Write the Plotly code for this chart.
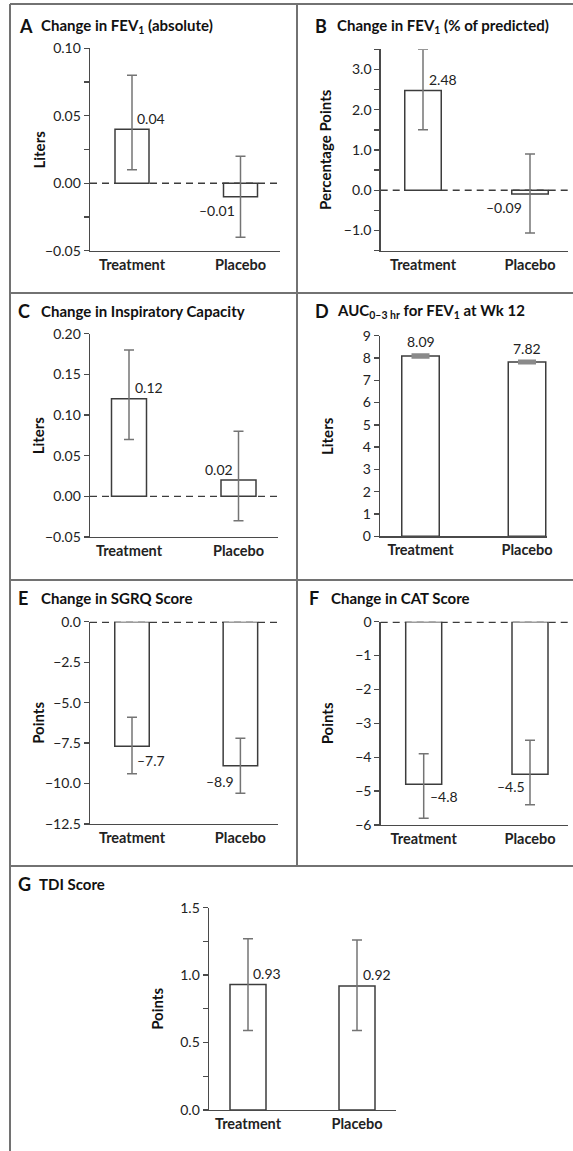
import plotly.graph_objects as go

# ---------------- DATA ----------------
categories = ["Treatment", "Placebo"]

panel_ids = ["A", "B", "C", "D", "E", "F", "G"]
panel_titles = [
    "Change in FEV<sub>1</sub> (absolute)",
    "Change in FEV<sub>1</sub> (% of predicted)",
    "Change in Inspiratory Capacity",
    "AUC<sub>0\u20133 hr</sub> for FEV<sub>1</sub> at Wk 12",
    "Change in SGRQ Score",
    "Change in CAT Score",
    "TDI Score",
]
y_titles = ["Liters", "Percentage Points", "Liters", "Liters", "Points", "Points", "Points"]

fev1_abs = [0.04, -0.01]
fev1_abs_lo = [0.01, -0.04]
fev1_abs_hi = [0.08, 0.02]

fev1_pct = [2.48, -0.09]
fev1_pct_lo = [1.50, -1.06]
fev1_pct_hi = [3.50, 0.90]

ic = [0.12, 0.02]
ic_lo = [0.07, -0.03]
ic_hi = [0.18, 0.08]

auc = [8.09, 7.82]
auc_lo = [8.03, 7.77]
auc_hi = [8.15, 7.87]

sgrq = [-7.7, -8.9]
sgrq_lo = [-9.4, -10.6]
sgrq_hi = [-5.9, -7.2]

cat = [-4.8, -4.5]
cat_lo = [-5.8, -5.4]
cat_hi = [-3.9, -3.5]

tdi = [0.93, 0.92]
tdi_lo = [0.59, 0.59]
tdi_hi = [1.27, 1.26]

values = [fev1_abs, fev1_pct, ic, auc, sgrq, cat, tdi]
lows = [fev1_abs_lo, fev1_pct_lo, ic_lo, auc_lo, sgrq_lo, cat_lo, tdi_lo]
highs = [fev1_abs_hi, fev1_pct_hi, ic_hi, auc_hi, sgrq_hi, cat_hi, tdi_hi]
label_decimals = [2, 2, 2, 2, 1, 1, 2]

y_ranges = [[-0.05, 0.10], [-1.5, 3.5], [-0.05, 0.20], [0, 9], [-12.5, 0], [-6, 0], [0, 1.5]]
y_dticks = [0.05, 1, 0.05, 1, 2.5, 1, 0.5]
y_minor = [0.025, 0.5, None, None, None, None, 0.25]
y_formats = [".2f", ".1f", ".2f", "d", ".1f", "d", ".1f"]

# ---------------- LAYOUT (pixels) ----------------
W, H = 573, 1151
FONT = "Lato"
TXT = "#222222"
AX = "#4a4a4a"

# axis left, axis right, bar centre T, bar centre P, bar width, y top px, y bottom px
geom = [
    (90, 280, 132, 240.5, 34, 48.3, 250.7),
    (380.7, 568, 423, 530, 36.5, 49.3, 250.7),
    (90, 278, 129, 238.5, 35, 333.7, 537),
    (380, 547, 420.5, 527, 37.5, 335.7, 536.3),
    (90, 278, 132, 240.4, 34.5, 621.7, 824),
    (380.7, 568, 423.7, 530, 36, 621.7, 825),
    (209, 396, 248, 357, 36, 907.7, 1110),
]
# letter left x, title text left x, title centre y
title_pos = [(17, 39, 26), (313, 335, 26), (16, 39, 311), (313, 335, 311),
             (16, 39, 598), (307, 329, 598), (16, 37, 884)]
# y-title centre x
ytitle_x = [38, 325, 38, 327, 38, 327, 157]
# value-label placement per bar: (dx, dy, anchor)
lab_pos = [
    [(3, 11, "left"), (-4, -14, "right")],
    [(4, 11, "left"), (-6, -14, "right")],
    [(4, 11, "left"), (-4, 11, "right")],
    [(0, 14, "center"), (0, 14, "center")],
    [(3, -14, "left"), (-4, -16, "right")],
    [(4, -12, "left"), (-3, -12, "right")],
    [(3, 11, "left"), (4, 11, "left")],
]

def px(x):
    return x / W

def py(y):
    return 1 - y / H

fig = go.Figure()
annotations = []
shapes = []

for i in range(7):
    axl, axr, c0, c1, bw, yt, yb = geom[i]
    unit = c1 - c0
    xr = [-(c0 - axl) / unit, 1 + (axr - c1) / unit]
    xa = "x" if i == 0 else f"x{i+1}"
    ya = "y" if i == 0 else f"y{i+1}"
    vals = values[i]
    err_plus = [h - v for h, v in zip(highs[i], vals)]
    err_minus = [v - l for v, l in zip(vals, lows[i])]
    is_d = panel_ids[i] == "D"
    fig.add_trace(go.Bar(
        x=[0, 1], y=vals, width=bw / unit,
        marker=dict(color="white", line=dict(color="#3c3c3c", width=1.5)),
        error_y=dict(type="data", symmetric=False, array=err_plus, arrayminus=err_minus,
                     color="#8a8a8a" if is_d else "#747474",
                     thickness=3 if is_d else 1.5, width=9 if is_d else 5),
        xaxis=xa, yaxis=ya, showlegend=False, hoverinfo="skip",
    ))
    xkey = "xaxis" if i == 0 else f"xaxis{i+1}"
    ykey = "yaxis" if i == 0 else f"yaxis{i+1}"
    fig.layout[xkey] = dict(
        domain=[px(axl), px(axr)], range=xr, anchor=ya, automargin=False,
        tickmode="array", tickvals=[0, 1], ticktext=categories,
        ticks="", showline=True, linecolor=AX, linewidth=1.4,
        showgrid=False, zeroline=False,
        tickfont=dict(family=FONT, size=14.5, color=TXT, weight="bold"),
        fixedrange=True,
    )
    ycfg = dict(
        domain=[py(yb), py(yt)], range=y_ranges[i], anchor=xa, automargin=False,
        tick0=0, dtick=y_dticks[i], tickformat=y_formats[i],
        ticks="outside", ticklen=5, tickwidth=1.3, tickcolor=AX,
        showline=True, linecolor=AX, linewidth=1.4,
        showgrid=False, zeroline=False,
        tickfont=dict(family=FONT, size=14, color=TXT),
        fixedrange=True,
    )
    if y_minor[i]:
        ycfg["minor"] = dict(dtick=y_minor[i], tick0=0, ticks="outside", ticklen=5,
                             tickwidth=1.3, tickcolor=AX, showgrid=False)
    fig.layout[ykey] = ycfg

    # dashed zero line (doubled width when it sits on the clipped top edge)
    lo_r, hi_r = y_ranges[i]
    if lo_r < 0:
        lw = 2.8 if hi_r == 0 else 1.4
        shapes.append(dict(type="line", xref=f"{xa} domain", yref=ya, x0=0, x1=1, y0=0, y1=0,
                           line=dict(color="#3c3c3c", width=lw, dash="7px,5px"), layer="below"))

    # value labels
    for j in range(2):
        dx, dy, anc = lab_pos[i][j]
        v = vals[j]
        txt = f"{v:.{label_decimals[i]}f}".replace("-", "\u2013")
        annotations.append(dict(
            x=j, y=v, xref=xa, yref=ya, text=txt, showarrow=False,
            xanchor=anc, yanchor="middle", xshift=dx, yshift=dy,
            font=dict(family=FONT, size=14, color=TXT),
        ))

    # panel letter and title
    lx, tx, ty = title_pos[i]
    annotations.append(dict(
        x=px(lx), y=py(ty), xref="paper", yref="paper", xanchor="left", yanchor="middle",
        text=panel_ids[i], showarrow=False,
        font=dict(family=FONT, size=18, color="#111", weight="bold"),
    ))
    annotations.append(dict(
        x=px(tx), y=py(ty), xref="paper", yref="paper", xanchor="left", yanchor="middle",
        text=panel_titles[i], showarrow=False,
        font=dict(family=FONT, size=15, color="#111", weight="bold"),
    ))
    # y-axis title
    annotations.append(dict(
        x=px(ytitle_x[i]), y=py((yt + yb) / 2), xref="paper", yref="paper",
        xanchor="center", yanchor="middle", textangle=-90,
        text=y_titles[i], showarrow=False,
        font=dict(family=FONT, size=15, color="#111", weight="bold"),
    ))

# frame lines
FR = dict(color="#727272", width=2)
for (x0, y0, x1, y1) in [
    (10, 4, 573, 4), (10, 4, 10, 1151), (297, 4, 297, 866),
    (10, 293, 573, 293), (10, 580, 573, 580), (10, 866, 573, 866),
]:
    shapes.append(dict(type="line", xref="paper", yref="paper",
                       x0=px(x0), x1=px(x1), y0=py(y0), y1=py(y1), line=FR))

fig.update_layout(
    width=W, height=H, margin=dict(l=0, r=0, t=0, b=0, pad=0, autoexpand=False),
    paper_bgcolor="white", plot_bgcolor="white",
    annotations=annotations, shapes=shapes, showlegend=False,
    bargap=0,
)
fig.write_html("out.html", config={"displayModeBar": False, "staticPlot": True},
               post_script="document.body.style.margin='0';document.body.style.overflow='hidden';")
